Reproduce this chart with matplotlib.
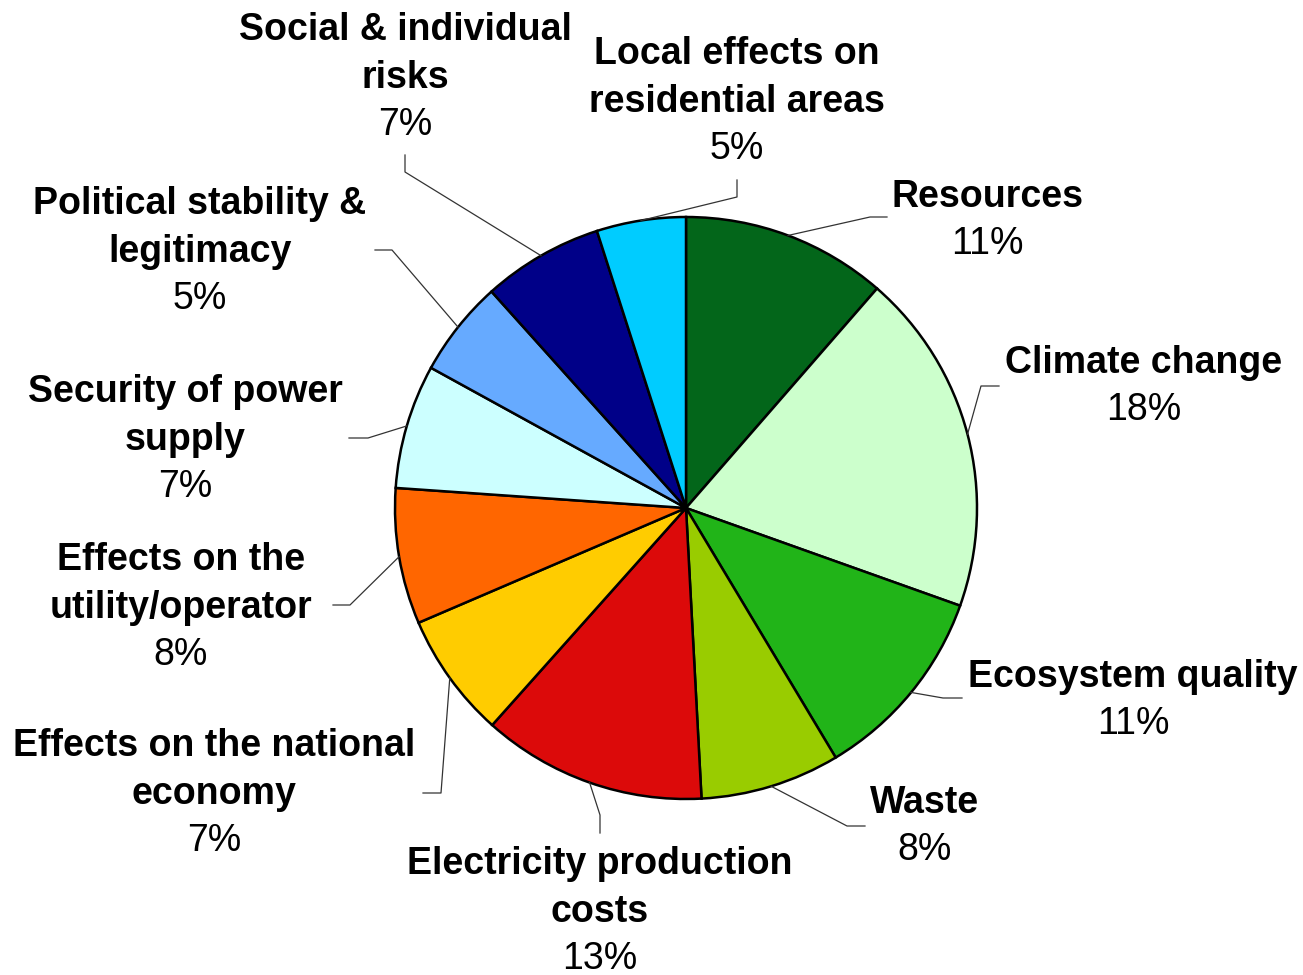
from matplotlib import pyplot as plt
import numpy as np

# criteria weights (share of the total, in %)
criteria = [
    ["Resources"],
    ["Climate change"],
    ["Ecosystem quality"],
    ["Waste"],
    ["Electricity production", "costs"],
    ["Effects on the national", "economy"],
    ["Effects on the", "utility/operator"],
    ["Security of power", "supply"],
    ["Political stability &", "legitimacy"],
    ["Social & individual", "risks"],
    ["Local effects on", "residential areas"],
]
weights = [11.4, 19.05, 10.95, 7.75, 12.45, 6.95, 7.55, 6.9, 5.35, 6.7, 4.95]
pct_labels = ["11%", "18%", "11%", "8%", "13%", "7%", "8%", "7%", "5%", "7%", "5%"]
colors = ["#03661A", "#CCFFCC", "#21B418", "#99CC00", "#DC0A0A", "#FFCC00",
          "#FF6600", "#CCFFFF", "#66AAFF", "#000088", "#00CCFF"]

# layout (pixels, y measured from the top of the picture)
W, H = 1303, 975
cx, cy, r = 686, 508, 291
label_x = [987, 1144, 1133, 925, 600, 214, 181, 185, 200, 405, 737]
label_base = [207, 373, 687, 813, 874, 756, 570, 402, 214, 40, 64]
elbows = [(870, 217), (981, 386), (943, 698), (847, 826), (600, 815), (441, 793),
          (350, 605), (368, 438), (392, 250), (405, 172), (737, 197)]
ends = [(887, 217), (999, 386), (962, 698), (865, 826), (600, 833), (423, 793),
        (333, 605), (349, 438), (375, 250), (405, 155), (737, 180)]
step = 47.5

plt.rcParams['font.family'] = ['Liberation Sans', 'DejaVu Sans']

fig = plt.figure(figsize=(W / 100, H / 100), dpi=100)
ax = fig.add_axes([0, 0, 1, 1])

ax.pie(weights, colors=colors, startangle=90, counterclock=False,
       center=(cx, H - cy), radius=r,
       wedgeprops=dict(edgecolor='black', linewidth=1.8))

ax.set_xlim(0, W)
ax.set_ylim(0, H)
ax.set_aspect('auto')
ax.axis('off')

# leader lines and labels
total = sum(weights)
cum = 0
for i, w in enumerate(weights):
    mid = np.deg2rad(90 - 360 * (cum + w / 2) / total)
    cum += w
    px = cx + r * np.cos(mid)
    py = H - cy + r * np.sin(mid)
    ex, ey = elbows[i]
    fx, fy = ends[i]
    ax.plot([px, ex, fx], [py, H - ey, H - fy], color='#333333', lw=0.9)

    lines = criteria[i]
    for j, txt in enumerate(lines):
        ax.text(label_x[i], H - (label_base[i] + j * step), txt, ha='center',
                va='baseline', fontsize=27, fontweight='bold')
    ax.text(label_x[i], H - (label_base[i] + len(lines) * step), pct_labels[i],
            ha='center', va='baseline', fontsize=27)

plt.savefig('out.png', dpi=100)
